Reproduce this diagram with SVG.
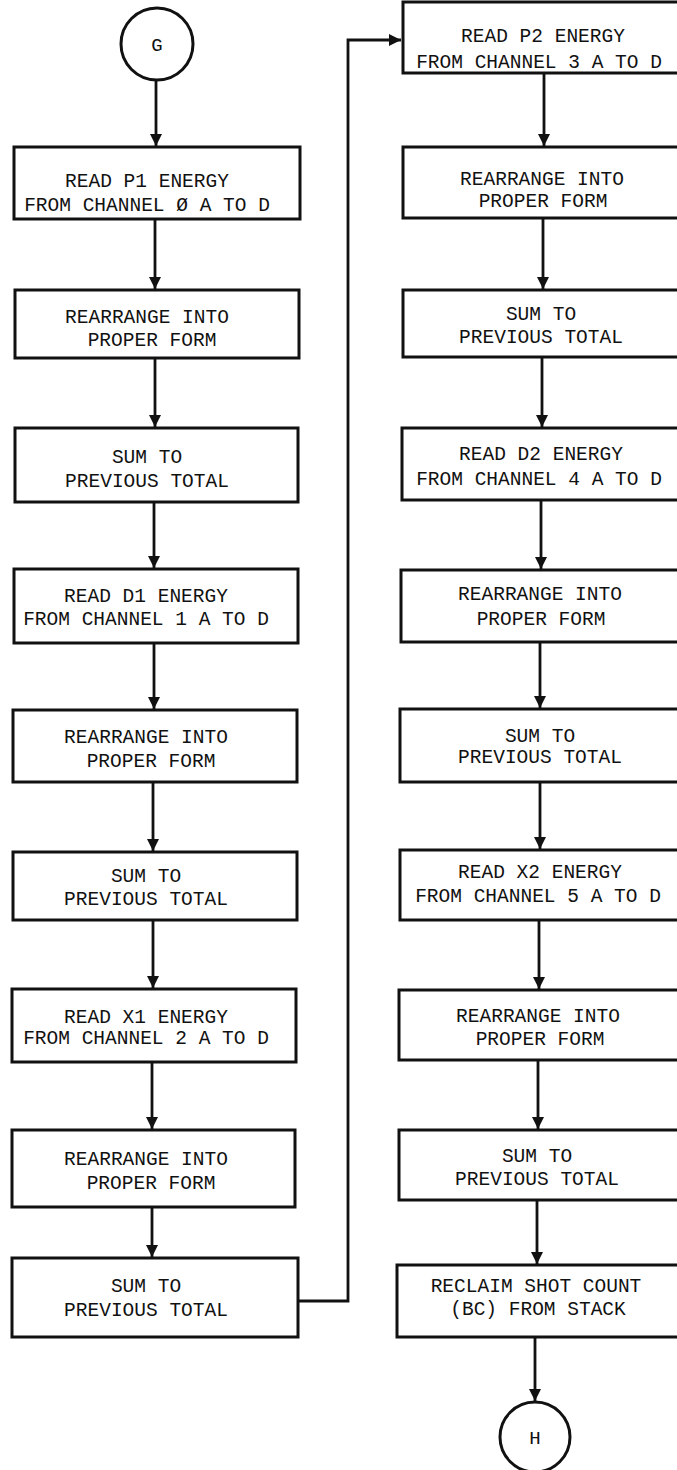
<svg xmlns="http://www.w3.org/2000/svg" width="677" height="1470" viewBox="0 0 677 1470">
<style>
.box{fill:#fff;stroke:#111;stroke-width:3}
.circ{fill:#fff;stroke:#111;stroke-width:3}
.t{font-family:"Liberation Mono","DejaVu Sans Mono",monospace;font-size:19.5px;fill:#111;text-anchor:middle}
.ct{font-family:"Liberation Mono","DejaVu Sans Mono",monospace;font-size:19px;fill:#111;text-anchor:middle}
.c{fill:none;stroke:#111;stroke-width:2.8;marker-end:url(#ah)}
</style>
<defs>
<marker id="ah" markerUnits="userSpaceOnUse" markerWidth="12" markerHeight="16" viewBox="0 0 12 16" refX="12" refY="6" orient="auto">
<path d="M0,0 L12,6 L0,12 Z" fill="#111"/>
</marker>
</defs>
<rect width="677" height="1470" fill="#fff"/>
<g id="connectors">
<path class="c" d="M156,80 V146"/>
<path class="c" d="M155,219 V289"/>
<path class="c" d="M155,358 V427"/>
<path class="c" d="M154,502 V568"/>
<path class="c" d="M154,643 V709"/>
<path class="c" d="M153,782 V851"/>
<path class="c" d="M153,920 V988"/>
<path class="c" d="M152,1062 V1129"/>
<path class="c" d="M152,1207 V1257"/>
<path class="c" d="M298,1301 H348 V40 H401"/>
<path class="c" d="M544,73 V146"/>
<path class="c" d="M543,218 V289"/>
<path class="c" d="M542,357 V427"/>
<path class="c" d="M541,500 V569"/>
<path class="c" d="M540,642 V708"/>
<path class="c" d="M540,782 V849"/>
<path class="c" d="M539,920 V989"/>
<path class="c" d="M538,1060 V1129"/>
<path class="c" d="M537,1200 V1264"/>
<path class="c" d="M535,1337 V1401"/>
</g>
<g id="G"><circle class="circ" cx="157" cy="44" r="36"/><text class="ct" x="157" y="51">G</text></g>
<g id="L1"><rect class="box" x="14" y="147" width="286" height="72"/><text class="t" x="147" y="187">READ P1 ENERGY</text><text class="t" x="147" y="211">FROM CHANNEL Ø A TO D</text></g>
<g id="L2"><rect class="box" x="15" y="290" width="284" height="68"/><text class="t" x="147" y="323">REARRANGE INTO</text><text class="t" x="152" y="346">PROPER FORM</text></g>
<g id="L3"><rect class="box" x="15" y="428" width="283" height="74"/><text class="t" x="147" y="463">SUM TO</text><text class="t" x="147" y="487">PREVIOUS TOTAL</text></g>
<g id="L4"><rect class="box" x="14" y="569" width="284" height="74"/><text class="t" x="146" y="602">READ D1 ENERGY</text><text class="t" x="146" y="625">FROM CHANNEL 1 A TO D</text></g>
<g id="L5"><rect class="box" x="13" y="710" width="284" height="72"/><text class="t" x="146" y="743">REARRANGE INTO</text><text class="t" x="151" y="767">PROPER FORM</text></g>
<g id="L6"><rect class="box" x="13" y="852" width="284" height="68"/><text class="t" x="146" y="882">SUM TO</text><text class="t" x="146" y="905">PREVIOUS TOTAL</text></g>
<g id="L7"><rect class="box" x="12" y="989" width="284" height="73"/><text class="t" x="146" y="1023">READ X1 ENERGY</text><text class="t" x="146" y="1044">FROM CHANNEL 2 A TO D</text></g>
<g id="L8"><rect class="box" x="12" y="1130" width="283" height="77"/><text class="t" x="146" y="1165">REARRANGE INTO</text><text class="t" x="151" y="1189">PROPER FORM</text></g>
<g id="L9"><rect class="box" x="12" y="1258" width="286" height="79"/><text class="t" x="146" y="1292">SUM TO</text><text class="t" x="146" y="1316">PREVIOUS TOTAL</text></g>
<g id="R1"><rect class="box" x="403" y="2" width="285" height="71"/><text class="t" x="543" y="42">READ P2 ENERGY</text><text class="t" x="539" y="68">FROM CHANNEL 3 A TO D</text></g>
<g id="R2"><rect class="box" x="403" y="147" width="285" height="71"/><text class="t" x="542" y="185">REARRANGE INTO</text><text class="t" x="543" y="207">PROPER FORM</text></g>
<g id="R3"><rect class="box" x="403" y="290" width="285" height="67"/><text class="t" x="541" y="320">SUM TO</text><text class="t" x="541" y="343">PREVIOUS TOTAL</text></g>
<g id="R4"><rect class="box" x="402" y="428" width="286" height="72"/><text class="t" x="541" y="460">READ D2 ENERGY</text><text class="t" x="539" y="485">FROM CHANNEL 4 A TO D</text></g>
<g id="R5"><rect class="box" x="401" y="570" width="287" height="72"/><text class="t" x="540" y="600">REARRANGE INTO</text><text class="t" x="541" y="625">PROPER FORM</text></g>
<g id="R6"><rect class="box" x="400" y="709" width="288" height="73"/><text class="t" x="540" y="742">SUM TO</text><text class="t" x="540" y="763">PREVIOUS TOTAL</text></g>
<g id="R7"><rect class="box" x="400" y="850" width="288" height="70"/><text class="t" x="540" y="878">READ X2 ENERGY</text><text class="t" x="538" y="902">FROM CHANNEL 5 A TO D</text></g>
<g id="R8"><rect class="box" x="399" y="990" width="289" height="70"/><text class="t" x="538" y="1022">REARRANGE INTO</text><text class="t" x="540" y="1045">PROPER FORM</text></g>
<g id="R9"><rect class="box" x="399" y="1130" width="289" height="70"/><text class="t" x="537" y="1162">SUM TO</text><text class="t" x="537" y="1185">PREVIOUS TOTAL</text></g>
<g id="R10"><rect class="box" x="397" y="1265" width="291" height="72"/><text class="t" x="536" y="1292">RECLAIM SHOT COUNT</text><text class="t" x="538" y="1315">(BC) FROM STACK</text></g>
<g id="H"><circle class="circ" cx="535" cy="1437" r="35"/><text class="ct" x="535" y="1444">H</text></g>
</svg>
